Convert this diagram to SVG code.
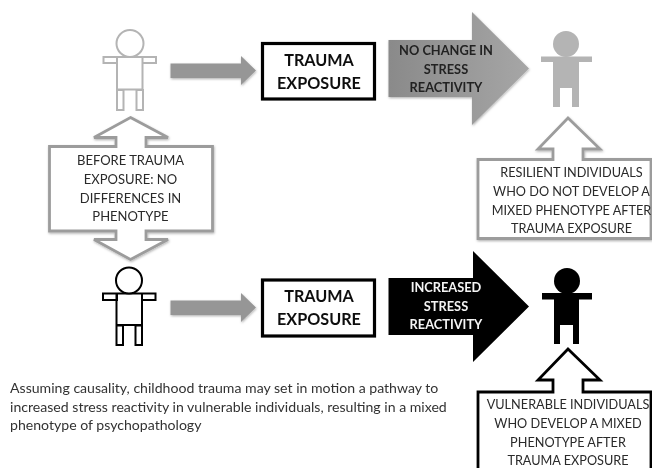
<svg xmlns="http://www.w3.org/2000/svg" width="652" height="468" viewBox="0 0 652 468">
<style>
text{font-family:"Lato","Carlito","Open Sans",sans-serif;text-anchor:middle}
.lbl{font-size:13px;fill:#2a2a2a}
.lbs{font-size:12.7px;fill:#2a2a2a}
.blk{font-size:12.8px;font-weight:700;fill:#222}
.wht{font-size:12.8px;font-weight:700;fill:#f4f4f4}
.box{font-size:16.2px;font-weight:700;fill:#111}
.note{font-size:14.1px;fill:#333;text-anchor:start}
.box-r{fill:#fff;stroke:#000;stroke-width:3.2}
.call-g{fill:#fff;stroke:#9c9c9c;stroke-width:2.8;stroke-linejoin:miter;filter:url(#sh)}
.call-k{fill:#fff;stroke:#000;stroke-width:2.8;stroke-linejoin:miter}
.fig-g{fill:#fff;stroke:#b4b4b4;stroke-width:2}
.fig-k{fill:#fff;stroke:#000;stroke-width:2}
</style>
<defs>
<linearGradient id="gr" x1="0" x2="1" y1="0" y2="0"><stop offset="0" stop-color="#8a8a8a"/><stop offset="1" stop-color="#a6a6a6"/></linearGradient>
<filter id="sh" x="-10%" y="-10%" width="120%" height="125%"><feDropShadow dx="0.6" dy="1.2" stdDeviation="1.2" flood-color="#000" flood-opacity="0.3"/></filter>
<filter id="soft"><feGaussianBlur stdDeviation="0.35"/></filter>
</defs>
<rect width="652" height="468" fill="#fff"/>
<g filter="url(#soft)">
<g id="connectors">
<path fill="#969696" filter="url(#sh)" d="M170.500 63.500H241V56L256 70.500L241 85V78H170.500Z"/>
<path fill="#969696" filter="url(#sh)" d="M170.500 300.500H241V293L256 307.500L241 322V315H170.500Z"/>
</g>
<g id="child-before-grey">
<path class="fig-g" d="M103.500 57h13.500v6h-13.500zM142.500 57h13.500v6h-13.500zM117 57h25.500v32.500h-25.500zM117 90h6.500v20h-6.500zM136.500 90h6.500v20h-6.500z"/>
<circle class="fig-g" cx="130" cy="43.500" r="13.500"/>
</g>
<g id="child-before-black">
<path class="fig-k" d="M103 293.500h14v6.500h-14zM142 293.500h13.500v6.500h-13.500zM116.500 293.500h25.500v31.500h-25.500zM116.500 325.500h6.500v19.500h-6.500zM135.500 325.500h6.500v19.500h-6.500z"/>
<circle class="fig-k" cx="129" cy="280.500" r="13"/>
</g>
<g id="trauma-top">
<rect class="box-r" x="262.500" y="43.500" width="112" height="55.500"/>
<text class="box" x="319" y="65.500">TRAUMA</text>
<text class="box" x="319" y="88.500">EXPOSURE</text>
</g>
<g id="trauma-bottom">
<rect class="box-r" x="262.500" y="280" width="112" height="56"/>
<text class="box" x="319" y="302">TRAUMA</text>
<text class="box" x="319" y="325">EXPOSURE</text>
</g>
<g id="no-change-arrow">
<path fill="url(#gr)" filter="url(#sh)" d="M388.500 40H472V12L529 68.500L472 125V97H388.500Z"/>
<text class="blk" x="446" y="55">NO CHANGE IN</text>
<text class="blk" x="446" y="73.500">STRESS</text>
<text class="blk" x="446" y="92">REACTIVITY</text>
</g>
<g id="increased-arrow">
<path fill="#000" d="M388.500 278H473V251L529 306.500L473 362V335H388.500Z"/>
<text class="wht" x="446" y="292">INCREASED</text>
<text class="wht" x="446" y="310.500">STRESS</text>
<text class="wht" x="446" y="329">REACTIVITY</text>
</g>
<g id="child-resilient">
<circle cx="566" cy="44" r="13" fill="#b4b4b4"/>
<path fill="#b4b4b4" d="M541 56.500H592V62H579V107H572V88H560V107H553V62H541Z"/>
</g>
<g id="child-vulnerable">
<circle cx="567" cy="281" r="13" fill="#000"/>
<path fill="#000" d="M542 293H592V299.500H579V344H573V325H560V344H554V299.500H542Z"/>
</g>
<g id="before-callout">
<path class="call-g" d="M130.500 117.500L168 137.500H146V146.500H212.500V231H146V239.500H168L130.500 259.500L94 239.500H116V231H49.500V146.500H116V137.500H94Z"/>
<text class="lbl" x="130.500" y="165">BEFORE TRAUMA</text>
<text class="lbl" x="130.500" y="184">EXPOSURE: NO</text>
<text class="lbl" x="130.500" y="202.500">DIFFERENCES IN</text>
<text class="lbl" x="130.500" y="221">PHENOTYPE</text>
</g>
<g id="resilient-callout">
<path class="call-g" d="M568 118L600 149H583V159.500H651V238.500H478V159.500H553V149H538Z"/>
<text class="lbs" x="571.500" y="177">RESILIENT INDIVIDUALS</text>
<text class="lbs" x="571.500" y="196">WHO DO NOT DEVELOP A</text>
<text class="lbs" x="571.500" y="214.500">MIXED PHENOTYPE AFTER</text>
<text class="lbs" x="571.500" y="232.500">TRAUMA EXPOSURE</text>
</g>
<g id="vulnerable-callout">
<path class="call-k" d="M568 349L600 380H583V392H651V472H478V392H553V380H538Z"/>
<text class="lbs" x="568" y="409">VULNERABLE INDIVIDUALS</text>
<text class="lbs" x="568" y="428">WHO DEVELOP A MIXED</text>
<text class="lbs" x="568" y="447">PHENOTYPE AFTER</text>
<text class="lbs" x="568" y="465">TRAUMA EXPOSURE</text>
</g>
<g id="caption">
<text class="note" x="10" y="393">Assuming causality, childhood trauma may set in motion a pathway to</text>
<text class="note" x="10" y="412">increased stress reactivity in vulnerable individuals, resulting in a mixed</text>
<text class="note" x="10" y="430">phenotype of psychopathology</text>
</g>
</g>
</svg>
